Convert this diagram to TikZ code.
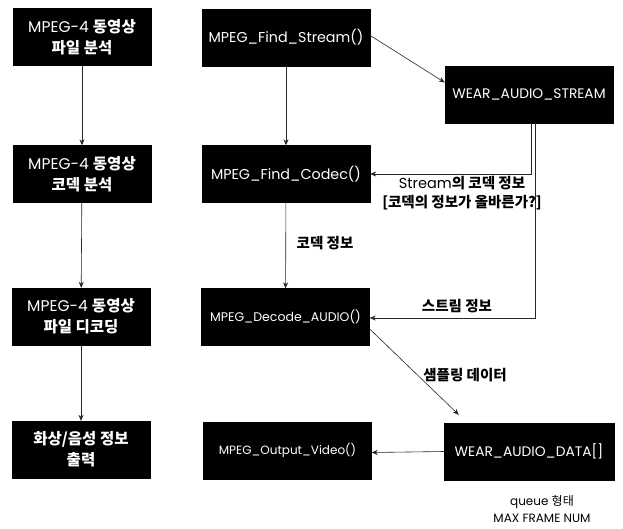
\documentclass[tikz,border=0pt]{standalone}
\usepackage{fontspec}
\setmainfont{Poppins}
\newfontfamily\kr{Noto Sans CJK KR}
\usetikzlibrary{arrows.meta}
\begin{document}
\begin{tikzpicture}[x=1pt,y=-1pt,
  box/.style={draw=black, fill=black, text=white, inner sep=0pt, align=center,
              font=\fontsize{14.3}{21}\selectfont},
  lbox/.style={box, minimum width=138pt, minimum height=57pt, font=\fontsize{15.5}{21}\selectfont},
  mbox/.style={box, minimum width=168pt, minimum height=57pt},
  rbox/.style={box, minimum width=168pt, minimum height=57pt},
  arr/.style={-{Stealth[length=6pt,width=5pt]}, line width=0.6pt, black!85},
  lab/.style={inner sep=0pt, align=center, font=\fontsize{14.5}{19}\selectfont}]
\useasboundingbox (0,0) rectangle (623,528);
% left column
\node[lbox] (L1) at (82,37) {MPEG-4 {\kr\bfseries 동영상}\\{\kr\bfseries 파일 분석}};
\node[lbox] (L2) at (82,174) {MPEG-4 {\kr\bfseries 동영상}\\{\kr\bfseries 코덱 분석}};
\node[lbox] (L3) at (81,316.5) {MPEG-4 {\kr\bfseries 동영상}\\{\kr\bfseries 파일 디코딩}};
\node[lbox] (L4) at (81,449.5) {{\kr\bfseries 화상/음성 정보}\\{\kr\bfseries 출력}};
% middle column
\node[mbox] (M1) at (286,37.5) {MPEG\_Find\_Stream()};
\node[mbox] (M2) at (286,174) {MPEG\_Find\_Codec()};
\node[mbox, font=\fontsize{12.5}{15}\selectfont] (M3) at (285.5,317) {MPEG\_Decode\_AUDIO()};
\node[mbox, font=\fontsize{12}{15}\selectfont] (M4) at (287.5,450.5) {MPEG\_Output\_Video()};
% right column
\node[rbox, font=\fontsize{13.8}{17}\selectfont] (R1) at (529,94.5) {WEAR\_AUDIO\_STREAM};
\node[rbox, minimum width=170pt, font=\fontsize{13.8}{17}\selectfont] (R2) at (529,451.5) {WEAR\_AUDIO\_DATA[]};
% arrows left
\draw[arr] (L1) -- (L2);
\draw[arr] (L2) -- (L3);
\draw[arr] (L3) -- (L4);
% arrows middle/right
\draw[arr] (M1) -- (M2);
\draw[arr] (M2) -- (M3);
\draw[arr] ([yshift=2pt]M1.east) -- ([yshift=12pt]R1.west);
\draw[arr] ([xshift=2pt]R1.south) |- (M2.east);
\draw[arr] ([xshift=6pt]R1.south) |- ([yshift=-1pt]M3.east);
\draw[arr] ([yshift=-12pt]M3.east) -- ([xshift=15pt,yshift=8pt]R2.north west);
\draw[arr] (R2.west) -- ([yshift=-2pt]M4.east);
% labels
\node[lab] (t1) at (462,193) {Stream{\kr\bfseries 의 코덱 정보}\\{\kr\bfseries [코덱의 정보가 올바른가?]}};
\node[lab] (t2) at (325,243) {\kr\bfseries 코덱 정보};
\node[lab] (t3) at (457,306) {\kr\bfseries 스트림 정보};
\node[lab] (t4) at (465,375) {\kr\bfseries 샘플링 데이터};
\node[lab, font=\fontsize{12}{17}\selectfont] (t5) at (542,509) {queue {\kr 형태}\\MAX FRAME NUM};
\end{tikzpicture}
\end{document}
